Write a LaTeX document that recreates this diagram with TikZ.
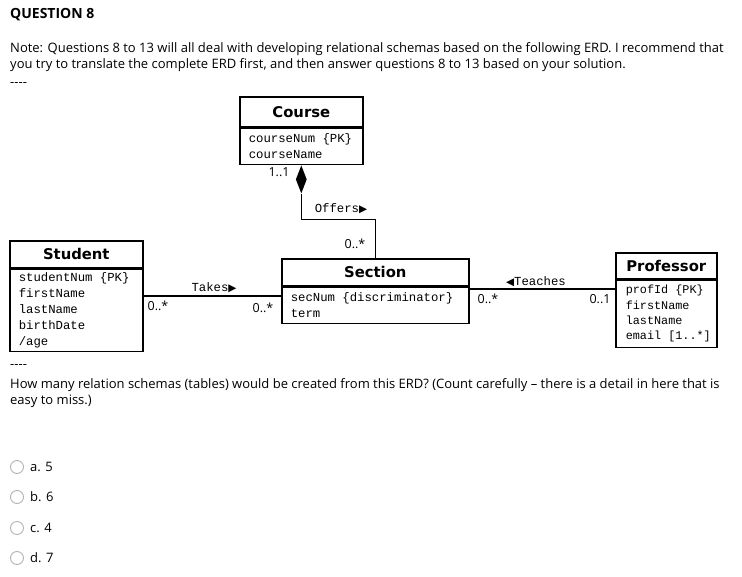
\documentclass[tikz,border=0pt]{standalone}
\usepackage{fontspec}
\setmainfont{Open Sans}
\setmonofont{Liberation Mono}
\newfontfamily\headfont{DejaVu Sans}
\newfontfamily\symfont{DejaVu Sans}
\usetikzlibrary{shapes.geometric}

\tikzset{
  classhead/.style={draw, line width=1.6pt, rectangle, anchor=north west, inner sep=0pt,
    font=\headfont\bfseries\fontsize{14.8}{16}\selectfont},
  classbody/.style={draw, line width=1.6pt, rectangle, anchor=north west, inner xsep=9pt,
    inner ysep=0pt, align=left, font=\ttfamily\fontsize{12.3}{15.8}\selectfont},
  conn/.style={line width=1.6pt},
  mult/.style={inner sep=0pt, font=\fontsize{12.5}{13}\selectfont},
  assoclbl/.style={inner sep=0pt, font=\ttfamily\fontsize{12.3}{13}\selectfont},
  comp/.style={diamond, fill=black, inner sep=0pt, minimum width=11pt, minimum height=28pt, anchor=north},
  bodytext/.style={anchor=base west, inner sep=0pt, align=left, font=\fontsize{13}{16.5}\selectfont},
  radio/.style={circle, draw=black!30, line width=0.9pt, minimum size=13pt, inner sep=0pt},
}
\newcommand{\rtri}{{\symfont\fontsize{10.5}{11}\selectfont\char"25B6}}
\newcommand{\ltri}{{\symfont\fontsize{10.5}{11}\selectfont\char"25C0}}
\newcommand{\msp}{\hspace*{0.6em}}

\begin{document}
\begin{tikzpicture}[x=1pt,y=-1pt]
  \useasboundingbox (0,0) rectangle (742,577);

  % header and note
  \node[bodytext, font=\bfseries\fontsize{14}{15}\selectfont] (qtitle) at (10,19) {QUESTION 8};
  \node[bodytext] (note) at (10,69) {Note: Questions 8 to 13 will all deal with developing relational schemas based on the following ERD. I recommend that\\you try to translate the complete ERD first, and then answer questions 8 to 13 based on your solution.};
  \node[bodytext] (sep1) at (10,87) {-{}-{}-{}-};

  % classes
  \node[classhead, minimum width=123pt, minimum height=30pt] (course) at (239,96) {Course};
  \node[classbody, text width=105pt, minimum width=123pt, minimum height=36pt] (coursebody) at (course.south west) {courseNum\msp{\{}PK{\}}\\courseName};

  \node[classhead, minimum width=133pt, minimum height=27pt] (student) at (9,240) {Student};
  \node[classbody, text width=115pt, minimum width=133pt, minimum height=82pt] (studentbody) at (student.south west) {studentNum\msp{\{}PK{\}}\\firstName\\lastName\\birthDate\\/age};

  \node[classhead, minimum width=187pt, minimum height=27pt] (section) at (281,258) {Section};
  \node[classbody, text width=169pt, minimum width=187pt, minimum height=36pt] (sectionbody) at (section.south west) {secNum\msp{\{}discriminator{\}}\\term};

  \node[classhead, minimum width=101pt, minimum height=26pt] (professor) at (615,252) {Professor};
  \node[classbody, inner xsep=10pt, text width=81pt, minimum width=101pt, minimum height=67pt,
    font=\ttfamily\fontsize{11.8}{15.3}\selectfont] (professorbody) at (professor.south west) {profId\msp{\{}PK{\}}\\firstName\\lastName\\\mbox{email\msp[1..*]}};

  % Offers (composition)
  \node[comp] (diam) at (coursebody.south) {};
  \draw[conn] (diam.south) -- ++(0,26) -| (section.north);
  \node[mult] (m11) at (279,172) {1..1};
  \node[assoclbl] (offers) at (341,209) {Offers\rtri};
  \node[mult] (msec1) at (355,244) {0..*};

  % Takes
  \coordinate (takesy) at (0,296);
  \draw[conn] (studentbody.east |- takesy) -- (sectionbody.west |- takesy);
  \node[assoclbl] (takes) at (214,288) {Takes\rtri};
  \node[mult] (mstu) at (158,306) {0..*};
  \node[mult] (msec2) at (263,308) {0..*};

  % Teaches
  \coordinate (teachy) at (0,289);
  \draw[conn] (sectionbody.east |- teachy) -- (professorbody.west |- teachy);
  \node[assoclbl] (teaches) at (536,282) {\ltri Teaches};
  \node[mult] (msec3) at (488,299) {0..*};
  \node[mult] (mprof) at (600,299) {0..1};

  % question
  \node[bodytext] (sep2) at (10,369) {-{}-{}-{}-};
  \node[bodytext] (question) at (10,405) {How many relation schemas (tables) would be created from this ERD? (Count carefully -- there is a detail in here that is\\easy to miss.)};

  % answers
  \foreach \lbl/\yy [count=\i] in {a. 5/467, b. 6/497, c. 4/528, d. 7/558} {
    \node[radio] (opt\i) at (17,\yy) {};
    \node[anchor=west, inner sep=0pt, font=\fontsize{13}{15}\selectfont] (ans\i) at ([xshift=6pt]opt\i.east) {\lbl};
  }
\end{tikzpicture}
\end{document}
